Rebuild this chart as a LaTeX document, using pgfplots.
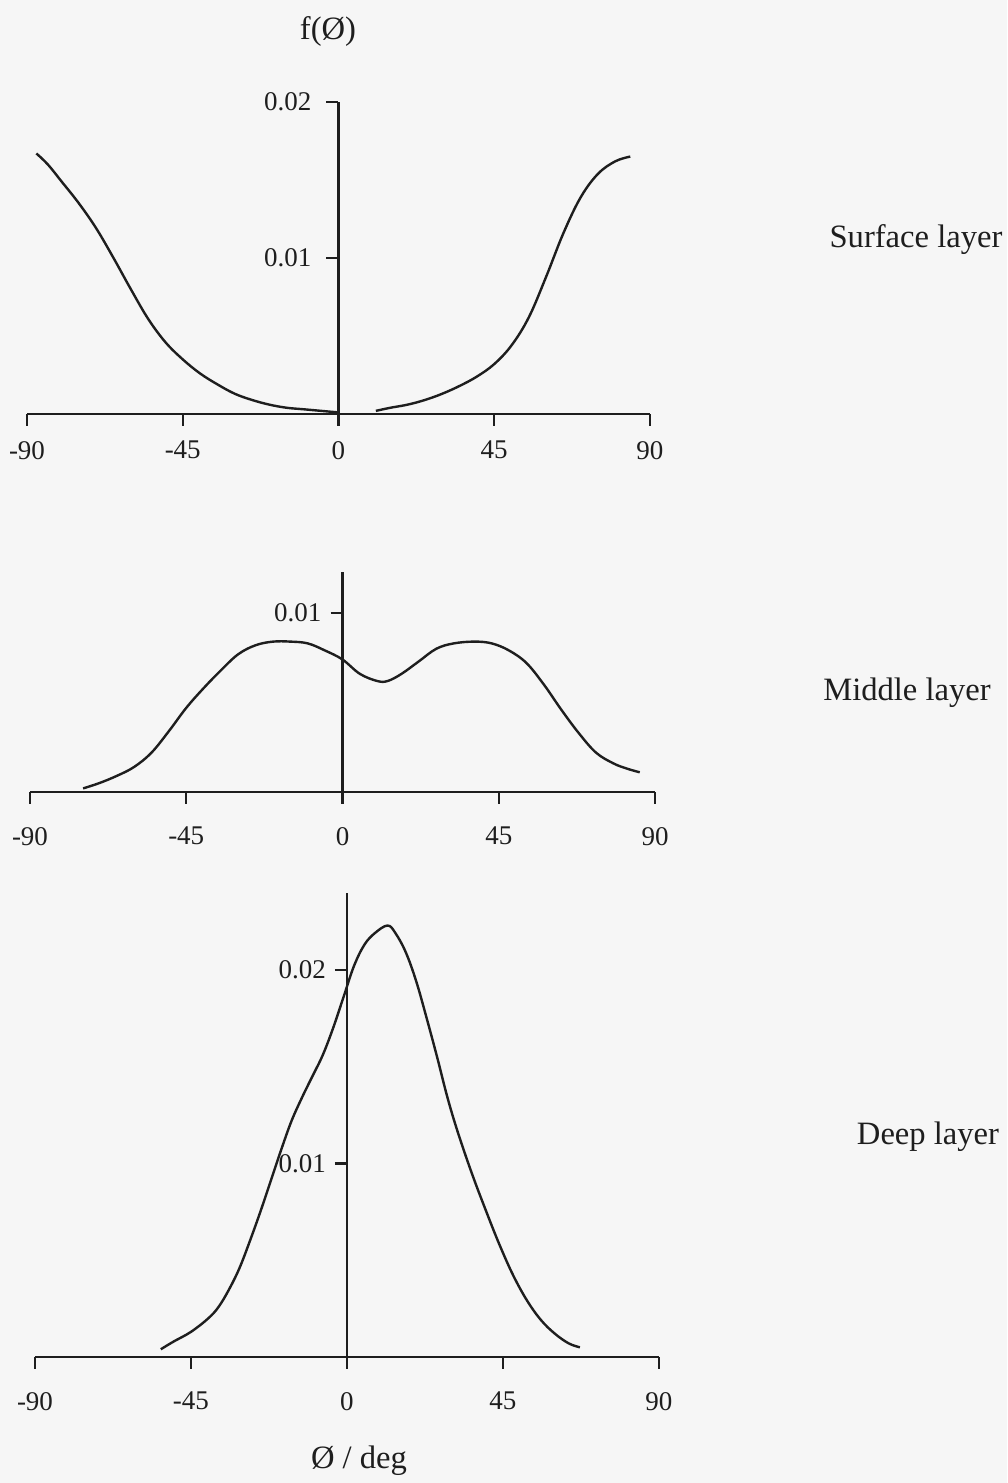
\documentclass[border=0pt]{standalone}
\usepackage{fontspec}
\setmainfont{Liberation Serif}
\usepackage{pgfplots}
\pgfplotsset{compat=1.18}
\definecolor{ink}{HTML}{1E1E1E}
\definecolor{paper}{HTML}{F6F6F6}
\pgfplotsset{
  layer/.style={
    scale only axis,
    axis x line=bottom,
    axis y line=center,
    axis line style={-, line width=1.1pt, color=ink},
    enlargelimits=false,
    clip=false,
    scaled y ticks=false,
    hide obscured x ticks=false,
    hide obscured y ticks=false,
    xmin=-90, xmax=90, ymin=0,
    xtick={-90,-45,0,45,90},
    xticklabels={-90,-45,0,45,90},
    tick align=outside,
    major tick length=6pt,
    tick style={line width=1.1pt, color=ink},
    ticklabel style={font=\fontsize{13.5}{13.5}\selectfont, text=ink},
    /pgf/number format/assume math mode=true,
  },
  curve/.style={line width=1.2pt, color=ink, smooth, tension=0.6},
}
\begin{document}
\begin{tikzpicture}
\fill[paper] (0,0) rectangle (503.5pt,741.5pt);
\path[use as bounding box] (0,0) rectangle (503.5pt,741.5pt);

% Surface layer
\begin{axis}[layer, at={(13.5pt,534.5pt)}, anchor=south west,
  width=311.5pt, height=156pt, ymax=0.02,
  ytick={0.01,0.02}, yticklabels={0.01,0.02},
  xticklabel style={yshift=-4pt},
  yticklabel style={xshift=-4pt}]
\addplot[curve] coordinates {
(-87.3,0.0167) (-84,0.0160) (-80,0.0149) (-75,0.0135) (-70,0.0119)
(-65,0.0100) (-60,0.0080) (-55,0.0061) (-50,0.0046) (-45,0.0035)
(-40,0.0026) (-35,0.0019) (-30,0.0013) (-25,0.0009) (-20,0.0006)
(-15,0.0004) (-10,0.0003) (-5,0.0002) (0,0.0001)};
\addplot[curve] coordinates {
(10.8,0.0002) (15,0.0004) (20,0.0006) (25,0.0009) (30,0.0013)
(35,0.0018) (40,0.0024) (45,0.0032) (50,0.0044) (55,0.0062)
(60,0.0088) (65,0.0116) (70,0.0139) (75,0.0154) (80,0.0162) (84.3,0.0165)};
\end{axis}

% Middle layer
\begin{axis}[layer, at={(15pt,345.5pt)}, anchor=south west,
  width=312.5pt, height=110pt, ymax=0.01229,
  ytick={0.01}, yticklabels={0.01},
  xticklabel style={yshift=-8pt},
  yticklabel style={xshift=-1pt}]
\addplot[curve] coordinates {
(-74.7,0.0002) (-70,0.0005) (-65,0.0009) (-60,0.0014) (-55,0.0022)
(-50,0.0034) (-45,0.0047) (-40,0.0058) (-35,0.0068) (-30,0.0077)
(-25,0.0082) (-20,0.0084) (-15,0.0084) (-10,0.0083) (-5,0.0079)
(0,0.0074) (5,0.0066) (10,0.0062) (13,0.0062) (17,0.0066)
(22,0.0073) (27,0.0080) (32,0.0083) (38,0.0084) (43,0.0083)
(48,0.0079) (53,0.0072) (58,0.0060) (63,0.0046) (68,0.0033)
(73,0.0022) (78,0.0016) (82,0.0013) (85.6,0.0011)};
\end{axis}

% Deep layer
\begin{axis}[layer, at={(17.5pt,63pt)}, anchor=south west,
  width=312pt, height=232pt, ymax=0.02398,
  ytick={0.01,0.02}, yticklabels={0.01,0.02},
  xticklabel style={yshift=-8pt},
  yticklabel style={xshift=-1pt}]
\addplot[curve] coordinates {
(-53.7,0.0004) (-50,0.0008) (-45,0.0013) (-40,0.0020) (-37,0.0026)
(-34,0.0035) (-31,0.0046) (-28,0.0060) (-25,0.0075) (-22,0.0091)
(-19,0.0107) (-16,0.0122) (-13,0.0134) (-10,0.0145) (-7,0.0156)
(-4,0.0170) (-1,0.0186) (2,0.0202) (5,0.0213) (8,0.0219)
(11.7,0.0223) (14,0.0219) (17,0.0209) (20,0.0194) (23,0.0175)
(26,0.0155) (29,0.0134) (32,0.0116) (36,0.0095) (40,0.0076)
(44,0.0058) (48,0.0042) (52,0.0029) (56,0.0019) (60,0.0012)
(64,0.0007) (67.2,0.0005)};
\end{axis}

\begin{scope}[every node/.style={font=\fontsize{16.3}{18}\selectfont, text=ink, inner sep=0pt}]
\node at (164pt,725.5pt) {f(Ø)};
\node at (458pt,621.5pt) {Surface layer};
\node at (453.5pt,395pt) {Middle layer};
\node at (464pt,173pt) {Deep layer};
\node at (179.5pt,11pt) {Ø / deg};
\end{scope}
\end{tikzpicture}
\end{document}
